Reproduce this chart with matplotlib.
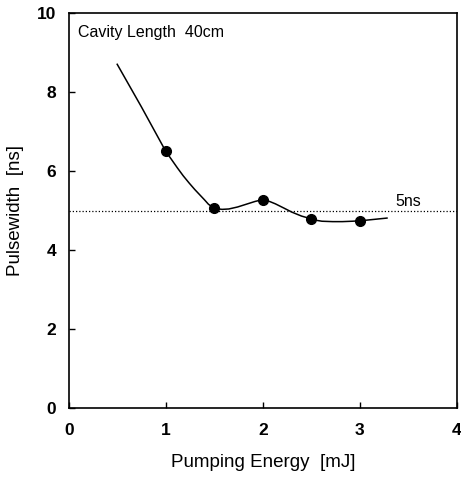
import matplotlib
matplotlib.use("Agg")
import matplotlib.pyplot as plt

### data
energy = [1.0, 1.5, 2.0, 2.5, 3.0]           # mJ
pulsewidth = [6.50, 5.06, 5.27, 4.79, 4.74]  # ns

# hand drawn fit curve, sampled along the line
fit_x = [0.50, 0.75, 1.00, 1.06, 1.12, 1.18, 1.24, 1.30, 1.35, 1.40, 1.44, 1.48,
         1.52, 1.58, 1.65, 1.74, 1.83, 1.92, 1.97, 2.02, 2.07, 2.13, 2.22, 2.30,
         2.40, 2.50, 2.56, 2.61, 2.72, 2.82, 2.92, 3.00, 3.12, 3.28]
fit_y = [8.70, 7.62, 6.50, 6.29, 6.08, 5.88, 5.70, 5.53, 5.40, 5.27, 5.16, 5.09,
         5.05, 5.03, 5.04, 5.09, 5.16, 5.23, 5.26, 5.26, 5.23, 5.17, 5.06, 4.96,
         4.86, 4.79, 4.75, 4.73, 4.72, 4.72, 4.73, 4.74, 4.77, 4.81]

ref_level = 5.0
x_ticks = [0, 1, 2, 3, 4]
y_ticks = [0, 2, 4, 6, 8, 10]

plt.rcParams["font.family"] = ["Liberation Sans", "DejaVu Sans"]

fig = plt.figure(figsize=(4.61, 4.78), dpi=100)
ax = fig.add_axes([0.149, 0.146, 0.842, 0.827])

ax.axhline(ref_level, color="black", lw=0.9, linestyle=(0, (1, 1.6)))
ax.plot(fit_x, fit_y, color="black", lw=1.1)
ax.plot(energy, pulsewidth, "o", color="black", markersize=7)

ax.text(0.1, 9.5, "Cavity Length  40cm", fontsize=11.5, va="center", ha="left")
ax.text(3.37, 5.22, "5ns", fontsize=11.5, va="center", ha="left")

ax.set_xlim(0, 4)
ax.set_ylim(0, 10)
ax.set_xticks(x_ticks)
ax.set_yticks(y_ticks)
ax.tick_params(direction="in", length=4, width=1, labelsize=12.5)
ax.tick_params(axis="x", pad=11)
ax.tick_params(axis="y", pad=9)
for lab in ax.get_xticklabels() + ax.get_yticklabels():
    lab.set_fontweight("bold")
for s in ax.spines.values():
    s.set_linewidth(1.2)

ax.set_xlabel("Pumping Energy  [mJ]", fontsize=13.5, labelpad=11)
ax.set_ylabel("Pulsewidth  [ns]", fontsize=13.5, labelpad=9)

plt.savefig("out.png", dpi=100)
